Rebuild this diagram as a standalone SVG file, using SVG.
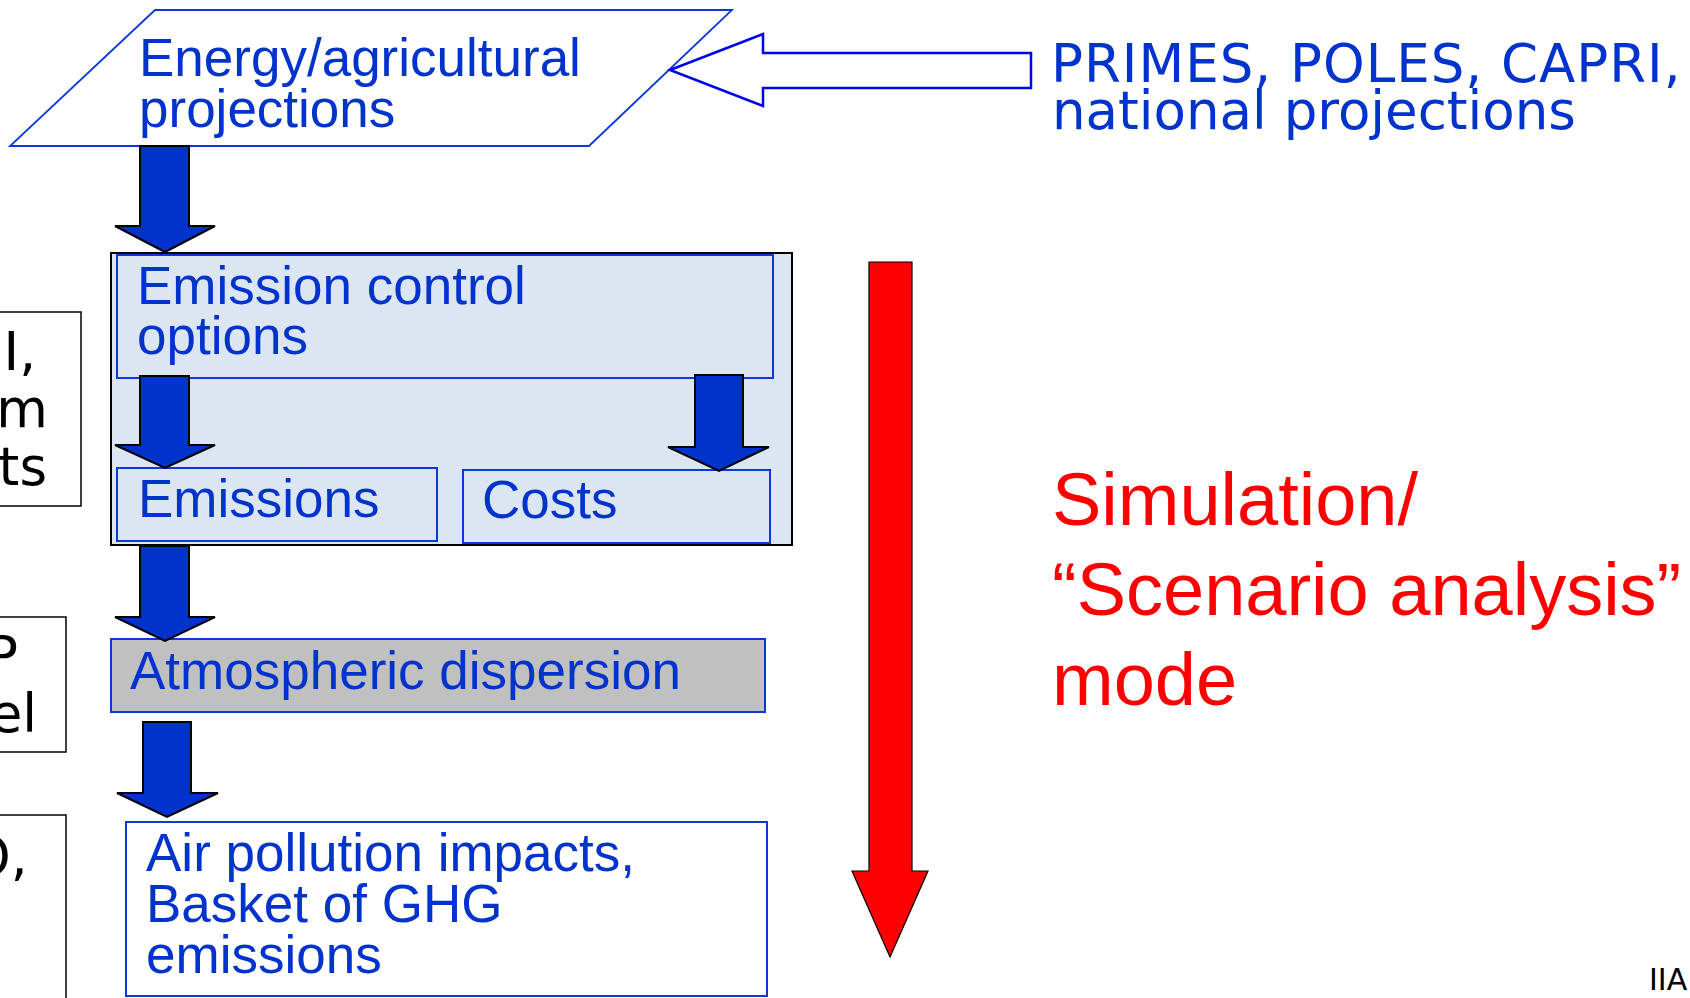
<svg xmlns="http://www.w3.org/2000/svg" width="1690" height="998" viewBox="0 0 1690 998">
  <style>
    .lbl { font-family: "Liberation Sans", Arial, sans-serif; font-size: 53px; fill: #0033cc; }
    .src { font-family: "DejaVu Sans", Verdana, sans-serif; font-size: 53px; fill: #0033cc; }
    .side { font-family: "DejaVu Sans", Verdana, sans-serif; font-size: 53px; fill: #000000; }
    .mode { font-family: "Liberation Sans", Arial, sans-serif; font-size: 74px; fill: #ff0000; }
    .foot { font-family: "DejaVu Sans", Verdana, sans-serif; font-size: 30px; fill: #000000; }
    .bluebox { stroke: #0a3ad6; stroke-width: 2; }
    .sidebox { fill: #ffffff; stroke: #000000; stroke-width: 1.5; }
    .flow { fill: #0033cc; stroke: #000000; stroke-width: 2; stroke-linejoin: miter; }
  </style>

  <rect x="0" y="0" width="1690" height="998" fill="#ffffff"/>

  <!-- partially visible input boxes along the left edge -->
  <g id="side-inputs-1">
    <rect class="sidebox" x="-10" y="312" width="91" height="194"/>
    <text class="side" x="36" y="370" text-anchor="end">I,</text>
    <text class="side" x="48" y="427" text-anchor="end">m</text>
    <text class="side" x="47" y="485" text-anchor="end">rts</text>
  </g>
  <g id="side-inputs-2">
    <rect class="sidebox" x="-10" y="617" width="76" height="135"/>
    <text class="side" x="-14" y="674">P</text>
    <text class="side" x="37" y="732" text-anchor="end">el</text>
  </g>
  <g id="side-inputs-3">
    <rect class="sidebox" x="-10" y="815" width="76" height="200"/>
    <text class="side" x="-31" y="875">O,</text>
  </g>

  <!-- projections (parallelogram) -->
  <g id="projections">
    <polygon points="155,10 732,10 589,146 10,146" fill="#ffffff" stroke="#0a3ad6" stroke-width="1.8"/>
    <text class="lbl" x="139" y="76">Energy/agricultural</text>
    <text class="lbl" x="139" y="127">projections</text>
  </g>

  <!-- external model sources -->
  <g id="sources">
    <text class="src" x="1051" y="82" letter-spacing="1">PRIMES, POLES, CAPRI,</text>
    <text class="src" x="1052" y="129">national projections</text>
  </g>

  <!-- emission control block -->
  <g id="emission-module">
    <rect x="111" y="253" width="681" height="292" fill="#dce6f2" stroke="#000000" stroke-width="2"/>
  </g>
  <g id="emission-control-options">
    <rect class="bluebox" x="117" y="255" width="656" height="123" fill="#dce6f2"/>
    <text class="lbl" x="137" y="304">Emission control</text>
    <text class="lbl" x="137" y="354">options</text>
  </g>
  <g id="emissions">
    <rect class="bluebox" x="117" y="468" width="320" height="73" fill="#dce6f2"/>
    <text class="lbl" x="138" y="517">Emissions</text>
  </g>
  <g id="costs">
    <rect class="bluebox" x="463" y="470" width="307" height="73" fill="#dce6f2"/>
    <text class="lbl" x="482" y="518">Costs</text>
  </g>

  <g id="dispersion">
    <rect class="bluebox" x="111" y="639" width="654" height="73" fill="#c0c0c0"/>
    <text class="lbl" x="130" y="689">Atmospheric dispersion</text>
  </g>

  <g id="impacts">
    <rect class="bluebox" x="126" y="822" width="641" height="174" fill="#ffffff"/>
    <text class="lbl" x="146" y="871">Air pollution impacts,</text>
    <text class="lbl" x="146" y="922">Basket of GHG</text>
    <text class="lbl" x="146" y="973">emissions</text>
  </g>

  <!-- mode label -->
  <g id="mode-label">
    <text class="mode" x="1052" y="525">Simulation/</text>
    <text class="mode" x="1052" y="615">“Scenario analysis”</text>
    <text class="mode" x="1052" y="705">mode</text>
  </g>

  <text class="foot" x="1649" y="990">IIA</text>

  <!-- connectors -->
  <g id="connectors">
    <path class="flow" d="M140,146 H189 V226 H215 L165,252 L115,226 H140 Z"/>
    <path class="flow" d="M140,376 H189 V445 H215 L165,468 L115,445 H140 Z"/>
    <path class="flow" d="M695,375 H743 V447 H769 L719,471 L668,447 H695 Z"/>
    <path class="flow" d="M140,546 H189 V617 H215 L165,641 L115,617 H140 Z"/>
    <path class="flow" d="M143,722 H191 V793 H218 L167,817 L117,793 H143 Z"/>
    <path d="M670,70 L763,34 V53 H1031 V88 H763 V106 Z" fill="#ffffff" stroke="#0000f0" stroke-width="2.5"/>
    <path d="M869,262 H912 V871 H928 L890,957 L852,871 H869 Z" fill="#ff0000" stroke="#000000" stroke-width="1.2"/>
  </g>
</svg>
